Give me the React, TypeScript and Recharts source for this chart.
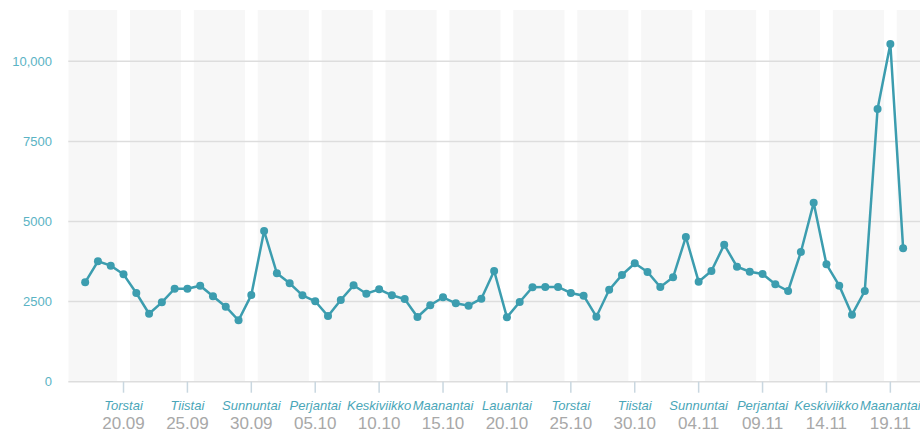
import React from 'react';
import { LineChart, Line, XAxis, YAxis, ReferenceArea, ReferenceLine } from 'recharts';

// daily values from 17.09 (day 0) to 20.11 (day 64)
const values: number[] = [
  3100, 3757, 3621, 3352, 2768, 2122, 2477, 2903, 2903, 2996,
  2665, 2341, 1916, 2706, 4703, 3383, 3071, 2696, 2510, 2050,
  2550, 3008, 2747, 2883, 2696, 2581, 2019, 2384, 2634, 2447,
  2372, 2591, 3455, 2010, 2488, 2946, 2956, 2956, 2768, 2684,
  2029, 2867, 3330, 3695, 3424, 2956, 3258, 4516, 3121, 3455,
  4276, 3589, 3433, 3361, 3040, 2831, 4048, 5582, 3664, 2996,
  2091, 2831, 8511, 10540, 4163,
];

const tickDays: number[] = [3, 8, 13, 18, 23, 28, 33, 38, 43, 48, 53, 58, 63];
const weekdayLabels: string[] = [
  'Torstai', 'Tiistai', 'Sunnuntai', 'Perjantai', 'Keskiviikko', 'Maanantai', 'Lauantai',
  'Torstai', 'Tiistai', 'Sunnuntai', 'Perjantai', 'Keskiviikko', 'Maanantai',
];
const dateLabels: string[] = [
  '20.09', '25.09', '30.09', '05.10', '10.10', '15.10', '20.10',
  '25.10', '30.10', '04.11', '09.11', '14.11', '19.11',
];
const yTicks: number[] = [0, 2500, 5000, 7500, 10000];
const yTickLabels: string[] = ['0', '2500', '5000', '7500', '10,000'];

const X_MIN = -1.32;
const X_MAX = 65.32;

const data = values.map((v, i) => ({ day: i, value: v }));

const bands: [number, number][] = [];
{
  let start = X_MIN;
  for (const t of tickDays) {
    bands.push([start, t - 0.5]);
    start = t + 0.5;
  }
  bands.push([start, X_MAX]);
}

const TEAL = '#3c9daf';
const FONT = '"Liberation Sans", Arial, sans-serif';

const XTick = (props: any) => {
  const { x, y, payload } = props;
  const idx = tickDays.indexOf(payload.value);
  return (
    <g>
      <text x={x} y={y + 17} textAnchor="middle" fontFamily={FONT} fontSize={13} fontStyle="italic" fill="#4aa6b8">
        {weekdayLabels[idx]}
      </text>
      <text x={x} y={y + 36} textAnchor="middle" fontFamily={FONT} fontSize={17} fill="#a8a8a8">
        {dateLabels[idx]}
      </text>
    </g>
  );
};

const YTick = (props: any) => {
  const { y, payload } = props;
  const idx = yTicks.indexOf(payload.value);
  return (
    <text x={52} y={y} dy={4.5} textAnchor="end" fontFamily={FONT} fontSize={13} fill="#5ab3c4">
      {yTickLabels[idx]}
    </text>
  );
};

export default function App() {
  return (
    <div style={{ position: 'absolute', left: 0, top: 0, width: 920, height: 433, overflow: 'hidden', background: '#fff' }}>
      <LineChart
        width={920}
        height={433}
        data={data}
        margin={{ top: 10, right: 0, bottom: 0, left: 0 }}
        style={{ overflow: 'hidden' }}
      >
        <XAxis
          dataKey="day"
          type="number"
          domain={[X_MIN, X_MAX]}
          ticks={tickDays}
          allowDataOverflow
          height={51.3}
          tick={<XTick />}
          tickSize={11}
          tickMargin={0}
          tickLine={{ stroke: '#c9d7e0', strokeWidth: 1.5 }}
          axisLine={{ stroke: '#dddddd', strokeWidth: 1.5 }}
          interval={0}
        />
        <YAxis
          type="number"
          domain={[0, 11600]}
          ticks={yTicks}
          width={68.3}
          axisLine={false}
          tickLine={false}
          tick={<YTick />}
          allowDataOverflow
        />
        {bands.map(([a, b], i) => (
          <ReferenceArea key={i} x1={a} x2={b} fill="#f7f7f7" fillOpacity={1} stroke="none" ifOverflow="hidden" />
        ))}
        {yTicks.filter((t) => t > 0).map((t) => (
          <ReferenceLine key={t} y={t} stroke="#dddddd" strokeWidth={1.5} />
        ))}
        <Line
          type="linear"
          dataKey="value"
          stroke={TEAL}
          strokeWidth={2.5}
          dot={{ r: 4, fill: TEAL, stroke: TEAL, strokeWidth: 0 }}
          isAnimationActive={false}
        />
      </LineChart>
    </div>
  );
}
